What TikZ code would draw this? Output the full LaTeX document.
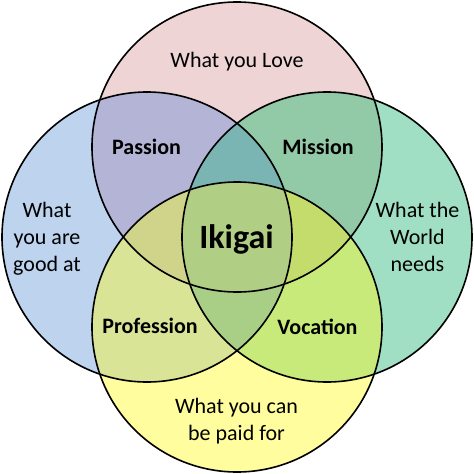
\documentclass[tikz,border=0pt]{standalone}
\usepackage{fontspec}
\setmainfont{Carlito}
\definecolor{cPink}{HTML}{EED4D4}
\definecolor{cBlue}{HTML}{BDD3EE}
\definecolor{cGreen}{HTML}{A0DFC3}
\definecolor{cYellow}{HTML}{FFFD9D}
\definecolor{cPassion}{HTML}{B3B4D6}
\definecolor{cMission}{HTML}{92C9A6}
\definecolor{cProfession}{HTML}{D9E497}
\definecolor{cVocation}{HTML}{C7EA7A}
\definecolor{cTopLens}{HTML}{7BB5B3}
\definecolor{cLeftLens}{HTML}{CFD48A}
\definecolor{cRightLens}{HTML}{C4DC6C}
\definecolor{cBottomLens}{HTML}{A9CF87}
\definecolor{cIkigai}{HTML}{B0CF84}
\tikzset{
  lbl/.style={font=\fontsize{22}{27}\selectfont, align=center, inner sep=0pt},
  blbl/.style={font=\fontsize{22}{27}\selectfont\bfseries, inner sep=0pt, anchor=base},
  ring/.style={draw=black, line width=1.6pt},
}
\begin{document}
\begin{tikzpicture}[x=1pt, y=-1pt]
\useasboundingbox (0,0) rectangle (474,474);
\coordinate (T) at (237,147);
\coordinate (L) at (147,237);
\coordinate (R) at (327,237);
\coordinate (B) at (237,327);
\def\rr{145pt}
% single circles
\fill[cPink] (T) circle[radius=\rr];
\fill[cBlue] (L) circle[radius=\rr];
\fill[cGreen] (R) circle[radius=\rr];
\fill[cYellow] (B) circle[radius=\rr];
% pairs
\begin{scope}\clip (T) circle[radius=\rr]; \fill[cPassion] (L) circle[radius=\rr]; \end{scope}
\begin{scope}\clip (T) circle[radius=\rr]; \fill[cMission] (R) circle[radius=\rr]; \end{scope}
\begin{scope}\clip (B) circle[radius=\rr]; \fill[cProfession] (L) circle[radius=\rr]; \end{scope}
\begin{scope}\clip (B) circle[radius=\rr]; \fill[cVocation] (R) circle[radius=\rr]; \end{scope}
% triples
\begin{scope}\clip (T) circle[radius=\rr]; \clip (L) circle[radius=\rr]; \fill[cTopLens] (R) circle[radius=\rr]; \end{scope}
\begin{scope}\clip (T) circle[radius=\rr]; \clip (L) circle[radius=\rr]; \fill[cLeftLens] (B) circle[radius=\rr]; \end{scope}
\begin{scope}\clip (T) circle[radius=\rr]; \clip (R) circle[radius=\rr]; \fill[cRightLens] (B) circle[radius=\rr]; \end{scope}
\begin{scope}\clip (L) circle[radius=\rr]; \clip (R) circle[radius=\rr]; \fill[cBottomLens] (B) circle[radius=\rr]; \end{scope}
% all four
\begin{scope}\clip (T) circle[radius=\rr]; \clip (L) circle[radius=\rr]; \clip (R) circle[radius=\rr]; \fill[cIkigai] (B) circle[radius=\rr]; \end{scope}
% outlines
\draw[ring] (T) circle[radius=\rr];
\draw[ring] (L) circle[radius=\rr];
\draw[ring] (R) circle[radius=\rr];
\draw[ring] (B) circle[radius=\rr];
% labels
\node[lbl, anchor=base] (love) at (237,67) {What you Love};
\node[lbl] (good) at (47,239) {What\\you are\\good at};
\node[lbl] (world) at (417.5,237) {What the\\World\\needs};
\node[lbl] (paid) at (236.5,421) {What you can\\be paid for};
\node[blbl] (passion) at (146.5,154) {Passion};
\node[blbl] (mission) at (318,154) {Mission};
\node[blbl] (profession) at (150,333) {Profession};
\node[blbl] (vocation) at (317.5,334) {Vocation};
\node[inner sep=0pt, anchor=base, font=\fontsize{34}{40}\selectfont\bfseries] (ikigai) at (236.5,248) {Ikigai};
\end{tikzpicture}
\end{document}
